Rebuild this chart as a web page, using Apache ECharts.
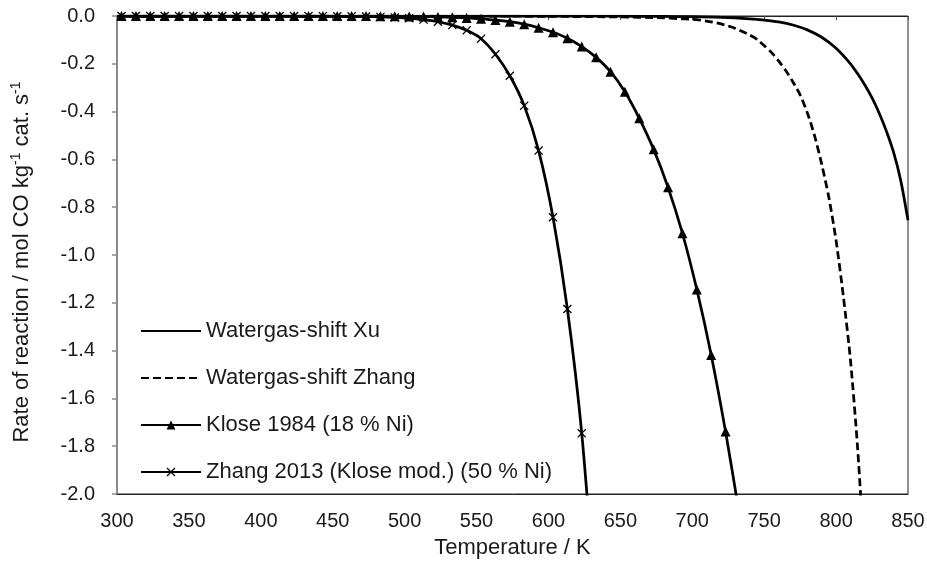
<!DOCTYPE html>
<html>
<head>
<meta charset="utf-8">
<script src="https://cdn.jsdelivr.net/npm/echarts@6/dist/echarts.min.js"></script>
<style>
html,body{margin:0;padding:0;background:#fff;}
#chart{width:927px;height:573px;}
</style>
</head>
<body>
<div id="chart"></div>
<script>
// ---- Data ----
const xTicks = [300, 350, 400, 450, 500, 550, 600, 650, 700, 750, 800, 850];
const yTicks = [0.0, -0.2, -0.4, -0.6, -0.8, -1.0, -1.2, -1.4, -1.6, -1.8, -2.0];

const xTitle = 'Temperature / K';
const yTitleParts = ['Rate of reaction / mol CO kg', '-1', ' cat. s', '-1'];

const seriesNames = [
  'Watergas-shift Xu',
  'Watergas-shift Zhang',
  'Klose 1984 (18 % Ni)',
  'Zhang 2013 (Klose mod.) (50 % Ni)'
];

// Watergas-shift Xu (solid, no markers)
const xuT = [300, 600, 650, 680, 700, 720, 740, 750, 760, 770, 780, 790, 800, 810, 815, 820, 825, 830, 835, 840, 845, 850];
const xuV = [0, -0.0002, -0.0008, -0.0018, -0.003, -0.006, -0.0123, -0.0174, -0.025, -0.0376, -0.058, -0.089, -0.135, -0.200, -0.242, -0.289, -0.343, -0.407, -0.482, -0.571, -0.690, -0.855];

// Watergas-shift Zhang (dashed, no markers)
const wzT = [300, 550, 600, 650, 680, 690, 700, 710, 720, 730, 740, 745, 750, 755, 760, 765, 770, 775, 780, 785, 790, 795, 800, 805, 810, 815, 820];
const wzV = [0, -0.0005, -0.0015, -0.004, -0.008, -0.011, -0.014, -0.021, -0.033, -0.052, -0.080, -0.098, -0.124, -0.152, -0.188, -0.228, -0.276, -0.330, -0.405, -0.500, -0.620, -0.760, -0.940, -1.170, -1.440, -1.810, -2.300];

// Klose 1984 (triangles)
const kloseT = [303.15, 313.15, 323.15, 333.15, 343.15, 353.15, 363.15, 373.15, 383.15, 393.15,
  403.15, 413.15, 423.15, 433.15, 443.15, 453.15, 463.15, 473.15, 483.15, 493.15,
  503.15, 513.15, 523.15, 533.15, 543.15, 553.15, 563.15, 573.15, 583.15, 593.15,
  603.15, 613.15, 623.15, 633.15, 643.15, 653.15, 663.15, 673.15, 683.15, 693.15,
  703.15, 713.15, 723.15, 733.15];
const kloseV = [-0.0001, -0.0001, -0.0001, -0.0001, -0.0001, -0.0001, -0.0001, -0.0001, -0.0001, -0.0001,
  -0.0001, -0.0001, -0.0001, -0.0001, -0.0001, -0.0002, -0.0003, -0.0005, -0.0007, -0.0011,
  -0.0017, -0.0025, -0.0037, -0.0055, -0.008, -0.012, -0.017, -0.024, -0.034, -0.049,
  -0.068, -0.093, -0.128, -0.173, -0.233, -0.317, -0.428, -0.558, -0.717, -0.909,
  -1.144, -1.418, -1.739, -2.100];

// Zhang 2013 (x markers)
const zhangT = [303.15, 313.15, 323.15, 333.15, 343.15, 353.15, 363.15, 373.15, 383.15, 393.15,
  403.15, 413.15, 423.15, 433.15, 443.15, 453.15, 463.15, 473.15, 483.15, 493.15,
  503.15, 513.15, 523.15, 533.15, 543.15, 553.15, 563.15, 573.15, 583.15, 593.15,
  603.15, 613.15, 623.15, 633.15];
const zhangV = [-0.0001, -0.0001, -0.0001, -0.0001, -0.0001, -0.0001, -0.0001, -0.0001, -0.0001, -0.0001,
  -0.0001, -0.0001, -0.0002, -0.0004, -0.0006, -0.001, -0.0015, -0.002, -0.004, -0.006,
  -0.009, -0.015, -0.024, -0.038, -0.060, -0.095, -0.160, -0.250, -0.375, -0.563,
  -0.842, -1.226, -1.746, -2.500];

// ---- Chart ----
const pair = (ts, vs) => ts.map((t, i) => [t, vs[i]]);
const FONT = '"Liberation Sans", Arial, sans-serif';
const TXT = '#1a1a1a';
const LW = 2.75;
const xMarker = 'path://M0,1L1,0L5,4L9,0L10,1L6,5L10,9L9,10L5,6L1,10L0,9L4,5Z';
const hiddenSymbol = {color: 'rgba(0,0,0,0)', borderWidth: 0, opacity: 0};

const chart = echarts.init(document.getElementById('chart'), null, {renderer: 'canvas'});
chart.setOption({
  animation: false,
  backgroundColor: '#fff',
  textStyle: {fontFamily: FONT},
  grid: {left: 117, right: 19, top: 16, bottom: 79, show: true, borderColor: '#222', borderWidth: 1,
         backgroundColor: 'transparent', containLabel: false, outerBoundsMode: 'none'},
  legend: {
    orient: 'vertical',
    left: 135,
    top: 314,
    itemWidth: 60,
    itemHeight: 11,
    itemGap: 23,
    data: [
      {name: seriesNames[0], itemStyle: hiddenSymbol},
      {name: seriesNames[1], itemStyle: hiddenSymbol},
      {name: seriesNames[2]},
      {name: seriesNames[3]}
    ],
    textStyle: {fontFamily: FONT, fontSize: 22, color: TXT, lineHeight: 24},
    selectedMode: false
  },
  graphic: [{
    type: 'text',
    x: 22, y: 262,
    rotation: Math.PI / 2,
    style: {
      text: '{a|' + yTitleParts[0] + '}{s|' + yTitleParts[1] + '}{a|' + yTitleParts[2] + '}{s|' + yTitleParts[3] + '}',
      align: 'center', verticalAlign: 'middle',
      fill: TXT, font: '22px ' + FONT,
      rich: {
        a: {fontSize: 22, fill: TXT, fontFamily: FONT, lineHeight: 26},
        s: {fontSize: 14, fill: TXT, fontFamily: FONT, lineHeight: 26, verticalAlign: 'top'}
      }
    }
  }],
  xAxis: [{
    type: 'value', position: 'bottom',
    min: xTicks[0], max: xTicks[xTicks.length - 1], interval: 50,
    axisLine: {show: true, onZero: false, lineStyle: {color: '#222', width: 1}},
    axisTick: {show: false},
    splitLine: {show: false},
    axisLabel: {fontSize: 20, color: TXT, margin: 17, fontFamily: FONT},
    name: xTitle, nameLocation: 'middle', nameGap: 43,
    nameTextStyle: {fontSize: 22, color: TXT, fontFamily: FONT}
  }, {
    type: 'value', position: 'top',
    min: xTicks[0], max: xTicks[xTicks.length - 1], interval: 50,
    axisLine: {show: true, onZero: false, lineStyle: {color: '#222', width: 1}},
    axisTick: {show: true, inside: true, length: 4, lineStyle: {color: '#555'}},
    splitLine: {show: false},
    axisLabel: {show: false}
  }],
  yAxis: [{
    type: 'value',
    min: yTicks[yTicks.length - 1], max: yTicks[0], interval: 0.2,
    axisLine: {show: true, onZero: false, lineStyle: {color: '#8a8a8a', width: 1.5}},
    axisTick: {show: true, inside: false, length: 5, lineStyle: {color: '#8a8a8a', width: 1.5}},
    splitLine: {show: false},
    axisLabel: {fontSize: 20, color: TXT, margin: 22, fontFamily: FONT, formatter: v => v.toFixed(1)}
  }],
  series: [
    {
      name: seriesNames[0], type: 'line', data: pair(xuT, xuV),
      symbol: 'none', smooth: 0.25,
      lineStyle: {color: '#000', width: LW}, itemStyle: {color: '#000'}, z: 4
    },
    {
      name: seriesNames[1], type: 'line', data: pair(wzT, wzV),
      symbol: 'none', smooth: 0.25,
      lineStyle: {color: '#000', width: LW, type: [8, 4]}, itemStyle: {color: '#000'}, z: 3
    },
    {
      name: seriesNames[2], type: 'line', data: pair(kloseT, kloseV),
      symbol: 'triangle', symbolSize: 10, showAllSymbol: true, smooth: 0.25,
      lineStyle: {color: '#000', width: LW}, itemStyle: {color: '#000'}, z: 2
    },
    {
      name: seriesNames[3], type: 'line', data: pair(zhangT, zhangV),
      symbol: xMarker, symbolSize: 9, showAllSymbol: true, smooth: 0.25,
      lineStyle: {color: '#000', width: LW}, itemStyle: {color: '#000'}, z: 2
    }
  ]
});
</script>
</body>
</html>
